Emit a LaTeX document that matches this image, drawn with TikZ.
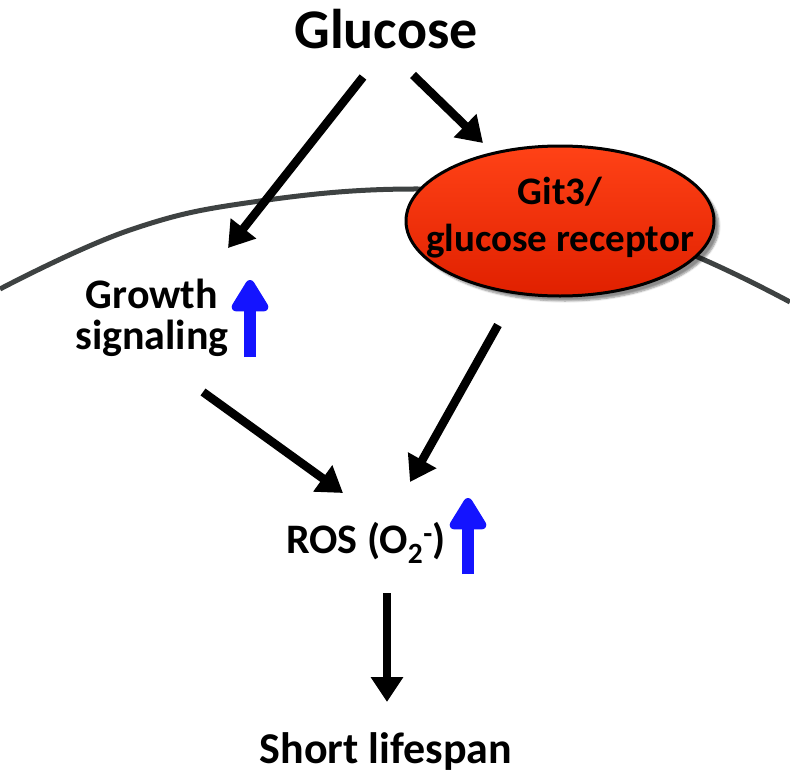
\documentclass[tikz,border=0pt]{standalone}
\usepackage{fontspec}
\setmainfont{Carlito}
\usepackage{tikz}
\usetikzlibrary{arrows.meta,positioning,calc,shapes.geometric,shadows.blur}
\definecolor{rectop}{RGB}{255,66,22}
\definecolor{recmid}{RGB}{252,44,2}
\definecolor{recbot}{RGB}{224,32,0}
\definecolor{membrane}{RGB}{62,66,66}
\definecolor{upblue}{RGB}{20,20,255}

\begin{document}
\begin{tikzpicture}[x=1pt,y=-1pt,
    lbl/.style={font=\bfseries\fontsize{42}{41}\selectfont, inner sep=0pt, align=center},
    arr/.style={line width=8.5pt, -{Triangle[length=25pt,width=31pt]}},
    uparr/.style={line width=12pt, draw=upblue, fill=upblue, -{Triangle[length=36pt,width=41pt,round]}},
    receptor/.style={ellipse, draw=black, line width=3pt, minimum width=308pt, minimum height=150pt,
        inner sep=0pt, top color=rectop, middle color=recmid, bottom color=recbot,
        blur shadow={shadow xshift=5pt, shadow yshift=-5pt, shadow blur steps=6, shadow opacity=45}},
    rectext/.style={align=center, inner sep=0pt, font=\bfseries\fontsize{39}{47}\selectfont}]
    \useasboundingbox (0,0) rectangle (790,779);

    % Cell membrane
    \draw[membrane, line width=5pt] plot[smooth, tension=0.7] coordinates
        {(0,289) (130,230) (260,201) (420,189) (560,202) (700,258) (790,302)};

    % Labels
    \node[lbl, font=\bfseries\fontsize{56}{56}\selectfont, anchor=base] (glucose) at (386,48) {Glucose};
    \node[receptor] (git3) at (560,221) {};
    \node[rectext] (git3text) at ([yshift=3pt]git3.center) {Git3/\\glucose receptor};
    \node[lbl] (growth) at (152,318) {Growth\\signaling};
    \node[lbl, anchor=base] (ros) at (366,553) {ROS (O\textsubscript{2}\textsuperscript{-})};
    \node[lbl, font=\bfseries\fontsize{44}{44}\selectfont, anchor=base] (life) at (386,763) {Short lifespan};

    % Pathway arrows
    \draw[arr] ([shift={(-23,29)}]glucose.base) -- ([shift={(76,-70)}]growth.center);
    \draw[arr] ([shift={(27,27)}]glucose.base) -- ([shift={(-77,-78)}]git3.center);
    \draw[arr] ([shift={(51,74)}]growth.center) -- ([shift={(-23,-60)}]ros.base);
    \draw[arr] ([shift={(-62,104)}]git3.center) -- ([shift={(44,-71)}]ros.base);
    \draw[arr] ([shift={(21,40)}]ros.base) -- ([shift={(1,-61)}]life.base);

    % Increase markers
    \draw[uparr] ([shift={(98,39)}]growth.center) -- ([shift={(98,-38)}]growth.center);
    \draw[uparr] ([shift={(102,21)}]ros.base) -- ([shift={(102,-55)}]ros.base);
\end{tikzpicture}
\end{document}
